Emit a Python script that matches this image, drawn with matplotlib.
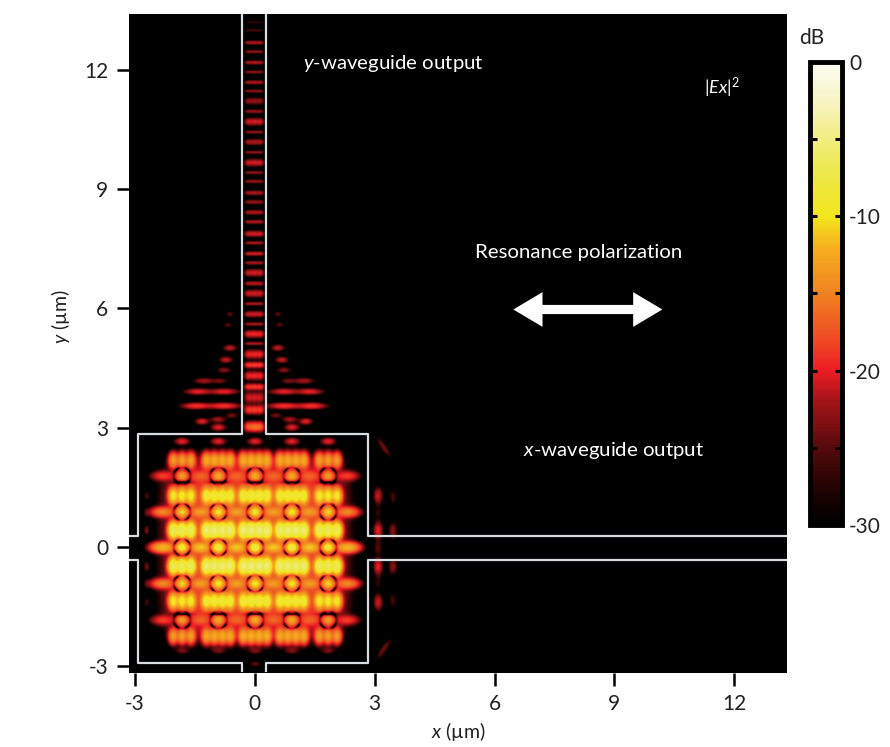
#!/usr/bin/env python

import numpy as np
import matplotlib as mpl
mpl.use('Agg')
import matplotlib.pyplot as plt
from matplotlib.colors import LinearSegmentedColormap

plt.rcParams['font.family'] = ['Lato', 'DejaVu Sans']
plt.rcParams['mathtext.fontset'] = 'custom'
plt.rcParams['mathtext.rm'] = 'Lato'
plt.rcParams['mathtext.it'] = 'Lato:italic'

# field features (um, dB)
guide_y = [13.19, 12.99, 12.68, 12.45, 12.18, 11.94, 11.68, 11.46, 11.21, 10.95, 10.69,
           10.43, 10.18, 9.92, 9.66, 9.41, 9.19, 8.90, 8.67, 8.41, 8.17, 7.87, 7.64,
           7.37, 7.14, 6.89, 6.62, 6.37, 6.11, 5.85, 5.60, 5.35, 5.11, 4.84, 4.57,
           4.30, 4.02, 3.75, 3.44, 3.02]
guide_db = [-27, -26, -22, -23, -22, -23, -22, -23, -23, -23, -21, -23, -22, -23, -21,
            -23, -23, -22, -23, -22, -22, -21, -22, -21, -22, -21, -22, -21, -22, -21,
            -22, -20, -22, -20, -19, -20, -19, -21, -19, -18]
guide_sy = [0.03, 0.03, 0.035, 0.03, 0.035, 0.03, 0.035, 0.03, 0.06, 0.035, 0.06, 0.03, 0.05,
            0.03, 0.06, 0.03, 0.035, 0.04, 0.04, 0.04, 0.035, 0.05, 0.03, 0.035, 0.03, 0.06,
            0.04, 0.06, 0.03, 0.05, 0.03, 0.06, 0.03, 0.07, 0.05, 0.07, 0.05, 0.09, 0.07, 0.08]

lobe_x = [1.45, 0.75, 1.40, 0.75, 1.25, 0.85, 0.75, 0.70, 0.60, 0.65, 0.60, 1.30, 0.9, 0.55]
lobe_y = [3.54, 3.54, 3.90, 3.90, 4.17, 4.17, 4.44, 4.70, 5.00, 5.58, 5.85, 3.15, 3.2, 3.3]
lobe_sx = [0.22, 0.25, 0.20, 0.22, 0.16, 0.12, 0.11, 0.10, 0.10, 0.07, 0.07, 0.10, 0.12, 0.10]
lobe_db = [-19, -19, -20, -20, -22, -24, -23, -21, -21, -25, -25, -20, -22, -24]

col_x = [-1.83, -0.92, 0.0, 0.92, 1.83]
col_db = [-1.0, -0.3, 0.0, -0.3, -1.0]
row_y = [2.17, 1.28, 0.41, -0.49, -1.37, -2.25]
row_db = [-12.5, -8.5, -5.5, -5.5, -8.5, -12.5]
ring_y = [1.78, 0.87, -0.02, -0.93, -1.85]
ring_db = [-13, -10, -8, -10, -13]
ring_depth = [0.5, 0.55, 0.6, 0.55, 0.5]
mid_x = [-2.32, -1.37, -0.46, 0.46, 1.37, 2.32]
mid_db = [-19, -15, -12, -15, -19]

outer_y = [2.65, 3.0, -2.62]
outer_db = [-20, -20, -24]
side_x = [3.08, 3.08, 3.08, 3.08, 3.08, 3.45, 3.45, 3.45, 3.45, 3.08, 3.08]
side_y = [1.28, 0.41, -0.03, -0.5, -1.4, 0.4, -0.5, 1.25, -1.35, 0.85, -0.9]
side_db = [-21, -20, -25, -20, -21, -23, -23, -26, -26, -27, -27]
left_y = [1.28, 0.85, 0.41, -0.5, -0.93, -1.4]
left_db = [-26, -27, -24, -24, -27, -26]

bar_ticks = [0, -10, -20, -30]
bar_minor = [-5, -15, -25]
x_ticks = [-3, 0, 3, 6, 9, 12]
y_ticks = [-3, 0, 3, 6, 9, 12]

cmap_db = [-30, -28, -25, -22, -20, -18, -15, -12, -10, -7, -4, -2, 0]
cmap_col = ['#000000', '#1c0202', '#560a0c', '#a31419', '#ed1c24', '#ef4a23', '#f08222',
            '#f6b01e', '#f4e61c', '#ece84e', '#f4f09a', '#f8f6d0', '#fcfcf4']

# waveguide outline, um
wall_l, wall_r, wall_t, wall_b = -2.92, 2.82, 2.83, -2.92
ywg_l, ywg_r = -0.33, 0.27
xwg_t, xwg_b = 0.27, -0.34
xlim = (-3.15, 13.32)
ylim = (-3.17, 13.4)

xs = np.arange(xlim[0], xlim[1], 0.02)
ys = np.arange(ylim[0], ylim[1], 0.02)
X, Y = np.meshgrid(xs, ys)
power = np.full(X.shape, 1e-5)


def add(x0, y0, sx, sy, db, turn=0.0):
    global power
    dx = X - x0
    dy = Y - y0
    u = dx * np.cos(turn) + dy * np.sin(turn)
    v = -dx * np.sin(turn) + dy * np.cos(turn)
    power = power + 10 ** (db / 10.0) * np.exp(-u ** 2 / (2 * sx ** 2) - v ** 2 / (2 * sy ** 2))


# broad glow in the cavity
env = np.exp(-(np.abs(X / 2.12) ** 6) - (np.abs((Y + 0.04) / 2.1) ** 6))
power = power + 10 ** (-18.0 / 10) * env

for cx, cd in zip(col_x, col_db):
    sub = [-0.3, -0.1, 0.1, 0.3] if abs(cx) < 1 else [-0.22, 0.0, 0.22]
    for ry, rd in zip(row_y, row_db):
        for dx in sub:
            add(cx + dx, ry, 0.07, 0.115, rd + cd)
    for gy, gd in zip(ring_y, ring_db):
        add(cx, gy, 0.08, 0.07, gd + cd)

for gy, gd in zip(ring_y, mid_db):
    for mx in mid_x:
        add(mx, gy, 0.14 if abs(mx) < 2 else 0.17, 0.075, gd)

# dark rings round the spots, darkest on the diagonals
for cx in col_x:
    for gy, gdep in zip(ring_y, ring_depth):
        r = np.hypot(X - cx, Y - gy)
        th = np.arctan2(Y - gy, X - cx)
        depth = gdep + (0.995 - gdep) * np.sin(2 * th) ** 2
        power = power * (1 - depth * np.exp(-((r - 0.21) / 0.04) ** 2))

# black arcs on the inner side of the outermost spot rows
for arc_y in [1.62, -1.70]:
    lane = np.exp(-((Y - arc_y) / 0.04) ** 2) * (np.abs(X) < 2.25)
    comb = 0.5 + 0.5 * np.cos(2 * np.pi * X / 0.915)
    power = power * (1 - 0.95 * lane * comb)

for cx in col_x:
    for oy, od in zip(outer_y, outer_db):
        if oy == 3.0 and abs(cx) > 1:
            continue
        add(cx, oy, 0.11, 0.055, od)
add(0.0, -2.95, 0.1, 0.05, -25)

for gy, gd, gs in zip(guide_y, guide_db, guide_sy):
    for gx in [-0.17, -0.02, 0.13]:
        add(gx, gy, 0.065, gs, gd)

for lx, ly, lsx, ld in zip(lobe_x, lobe_y, lobe_sx, lobe_db):
    add(lx - 0.03, ly, lsx, 0.05, ld)
    add(-lx - 0.03, ly, lsx, 0.05, ld)

for sx_, sy_, sd in zip(side_x, side_y, side_db):
    add(sx_, sy_, 0.07, 0.13, sd)
for ly, ld in zip(left_y, left_db):
    add(-2.72, ly, 0.045, 0.08, ld)

# the two slanted streaks right of the cavity
add(3.22, 2.5, 0.05, 0.2, -24, turn=0.6)
add(3.22, -2.58, 0.05, 0.2, -24, turn=-0.6)

field = np.clip(10 * np.log10(power), -30, 0)

cmap = LinearSegmentedColormap.from_list(
    'ex', [((d + 30) / 30.0, c) for d, c in zip(cmap_db, cmap_col)])

fig = plt.figure(figsize=(8.9, 7.47), dpi=100)
ax = fig.add_axes([129 / 890.0, 1 - 673 / 747.0, 658 / 890.0, 659 / 747.0])
im = ax.imshow(field, origin='lower', extent=(xlim[0], xlim[1], ylim[0], ylim[1]),
               cmap=cmap, vmin=-30, vmax=0, aspect='auto', interpolation='bilinear')

line_col = '#d9dde2'
ax.plot([ywg_l, ywg_l, wall_l, wall_l, -3.15], [ylim[1], wall_t, wall_t, xwg_t, xwg_t], color=line_col, lw=1.6)
ax.plot([ywg_r, ywg_r, wall_r, wall_r, xlim[1]], [ylim[1], wall_t, wall_t, xwg_t, xwg_t], color=line_col, lw=1.6)
ax.plot([-3.15, wall_l, wall_l, ywg_l, ywg_l], [xwg_b, xwg_b, wall_b, wall_b, -3.12], color=line_col, lw=1.6)
ax.plot([xlim[1], wall_r, wall_r, ywg_r, ywg_r], [xwg_b, xwg_b, wall_b, wall_b, -3.12], color=line_col, lw=1.6)

ax.set_xlim(xlim)
ax.set_ylim(ylim)
ax.set_xticks(x_ticks)
ax.set_yticks(y_ticks)
ax.set_xticklabels([str(v) for v in x_ticks])
ax.set_yticklabels([str(v) for v in y_ticks])
ax.tick_params(length=9, width=1.8, labelsize=15, pad=6, color='black', labelcolor='#222222')
for s in ax.spines.values():
    s.set_visible(False)

ax.set_xlabel(r'$\mathit{x}$ (µm)', fontsize=14, color='#222222')
ax.set_ylabel(r'$\mathit{y}$ (µm)', fontsize=14, color='#222222')
ax.xaxis.set_label_coords(0.5, -0.072)
ax.yaxis.set_label_coords(-0.087, 0.54)

ax.text(1.2, 12.15, r'$\mathit{y}$-waveguide output', color='white', fontsize=14.7, va='center')
ax.text(11.25, 11.53, r'|$\mathit{Ex}$|$^{2}$', color='white', fontsize=13, va='center')
ax.text(5.5, 7.4, 'Resonance polarization', color='white', fontsize=14.7, va='center')
ax.text(6.7, 2.43, r'$\mathit{x}$-waveguide output', color='white', fontsize=14.7, va='center')

# double arrow: two heads and a straight shaft
ax.plot([7.0, 9.7], [5.97, 5.97], color='white', lw=6.6, solid_capstyle='butt')
for tip, tail in [(10.2, 8.9), (6.47, 7.8)]:
    ax.annotate('', xy=(tip, 5.97), xytext=(tail, 5.97),
                arrowprops=dict(arrowstyle='simple,head_length=2.1,head_width=2.5,tail_width=0.5',
                                color='white', lw=0, shrinkA=0, shrinkB=0, mutation_scale=10))

cax = fig.add_axes([810 / 890.0, 1 - 525 / 747.0, 32 / 890.0, 463 / 747.0])
cb = fig.colorbar(im, cax=cax)
cb.set_ticks(bar_ticks + bar_minor)
cb.set_ticklabels([str(v) for v in bar_ticks] + [''] * len(bar_minor))
cax.tick_params(which='major', direction='in', left=True, right=True, length=5, width=2.2,
                labelsize=15, pad=5, labelcolor='#222222')
cb.outline.set_linewidth(3.5)
cb.outline.set_edgecolor('black')
fig.text(812 / 890.0, 1 - 38 / 747.0, 'dB', fontsize=15, color='#222222', ha='center', va='center')

plt.savefig('out.png', dpi=100)
